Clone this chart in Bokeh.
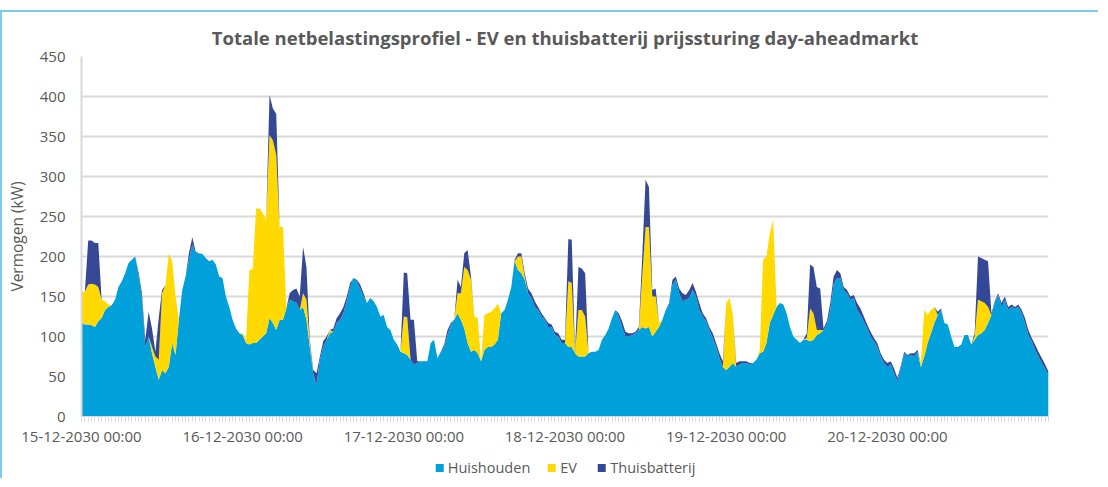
import pandas as pd
from bokeh.plotting import figure
from bokeh.layouts import column
from bokeh.models import (ColumnDataSource, FixedTicker, Range1d, Legend, LegendItem,
                          DatetimeTickFormatter)
from bokeh.embed import file_html
from bokeh.resources import INLINE

title_text = "Totale netbelastingsprofiel - EV en thuisbatterij prijssturing day-aheadmarkt"
y_label = "Vermogen (kW)"
series_names = ["Huishouden", "EV", "Thuisbatterij"]
series_colors = ["#00A0DA", "#FFD900", "#354895"]
start_time = "2030-12-15 00:00"
step = "30min"
x_tick_labels = ["15-12-2030 00:00", "16-12-2030 00:00", "17-12-2030 00:00",
                 "18-12-2030 00:00", "19-12-2030 00:00", "20-12-2030 00:00"]
y_ticks = [0, 50, 100, 150, 200, 250, 300, 350, 400, 450]

# kW, every 30 minutes
huishouden = [
    117, 115, 115, 114, 112, 119, 123, 133, 137, 139, 146, 162,
    169, 179, 192, 196, 200, 175, 148, 87, 100, 79, 62, 46,
    58, 54, 62, 92, 77, 121, 158, 175, 196, 215, 204, 204,
    203, 198, 194, 196, 190, 175, 173, 150, 137, 121, 110, 104,
    102, 92, 90, 92, 92, 96, 100, 104, 123, 117, 108, 121,
    121, 135, 146, 144, 142, 133, 137, 121, 87, 54, 40, 71,
    87, 96, 104, 106, 117, 121, 129, 144, 162, 173, 169, 160,
    150, 142, 148, 144, 137, 125, 127, 112, 108, 96, 90, 81,
    79, 77, 71, 65, 67, 69, 69, 69, 92, 96, 73, 81,
    87, 102, 115, 121, 129, 121, 110, 92, 81, 83, 79, 69,
    83, 87, 87, 90, 96, 129, 133, 146, 162, 194, 183, 179,
    171, 154, 148, 137, 133, 125, 121, 112, 112, 102, 100, 92,
    92, 87, 87, 79, 75, 75, 75, 79, 81, 81, 83, 96,
    102, 110, 123, 133, 125, 112, 100, 100, 102, 104, 108, 112,
    110, 112, 100, 106, 112, 121, 133, 140, 165, 171, 154, 144,
    146, 148, 158, 150, 133, 125, 119, 108, 98, 87, 73, 62,
    58, 62, 67, 62, 65, 67, 67, 65, 67, 71, 79, 81,
    92, 117, 127, 137, 142, 140, 129, 112, 100, 96, 92, 96,
    96, 94, 96, 102, 104, 108, 115, 133, 165, 173, 173, 158,
    154, 146, 148, 133, 127, 119, 110, 100, 94, 87, 75, 67,
    62, 65, 54, 44, 60, 79, 75, 77, 75, 81, 62, 75,
    92, 104, 117, 127, 133, 117, 115, 100, 87, 87, 90, 102,
    102, 90, 96, 102, 104, 108, 117, 127, 142, 152, 137, 146,
    133, 137, 135, 137, 129, 117, 102, 94, 83, 75, 67, 60,
    52,
]
ev = [
    39, 41, 50, 52, 53, 43, 23, 11, 3, 0, 0, 0,
    0, 0, 0, 0, 0, 0, 0, 0, 0, 8, 13, 25,
    96, 110, 142, 102, 73, 0, 0, 0, 0, 0, 0, 0,
    0, 0, 0, 0, 0, 0, 0, 0, 0, 0, 0, 0,
    2, 4, 93, 92, 168, 164, 154, 142, 229, 228, 219, 116,
    116, 0, 0, 0, 0, 0, 17, 25, 5, 0, 0, 0,
    0, 0, 4, 0, 0, 0, 0, 0, 0, 0, 0, 0,
    0, 0, 0, 0, 0, 0, 0, 0, 0, 0, 0, 0,
    46, 47, 0, 0, 0, 0, 0, 0, 0, 0, 0, 0,
    0, 0, 0, 0, 25, 33, 77, 91, 90, 42, 44, 0,
    44, 42, 44, 45, 45, 0, 0, 0, 0, 0, 17, 21,
    4, 0, 0, 0, 0, 0, 0, 0, 0, 0, 0, 0,
    0, 82, 80, 0, 58, 58, 50, 0, 0, 0, 0, 0,
    0, 0, 0, 0, 0, 0, 0, 0, 0, 0, 0, 63,
    127, 125, 50, 44, 5, 0, 0, 0, 0, 0, 0, 0,
    0, 0, 0, 0, 0, 0, 0, 0, 0, 0, 0, 0,
    84, 86, 60, 0, 0, 0, 0, 0, 0, 0, 4, 115,
    108, 112, 119, 0, 0, 0, 0, 0, 0, 0, 0, 0,
    2, 41, 33, 6, 4, 0, 0, 0, 0, 0, 0, 0,
    0, 0, 0, 0, 0, 0, 0, 0, 0, 0, 0, 0,
    0, 0, 0, 0, 0, 0, 0, 0, 0, 0, 5, 58,
    35, 29, 20, 0, 0, 0, 0, 0, 0, 0, 0, 0,
    0, 0, 4, 44, 40, 34, 20, 0, 0, 0, 0, 0,
    0, 0, 0, 0, 0, 0, 0, 0, 0, 0, 0, 0,
    0,
]
thuisbatterij = [
    0, 0, 55, 54, 52, 55, 0, 0, 0, 0, 0, 0,
    0, 0, 0, 0, 0, 5, 6, 9, 31, 23, 6, 52,
    4, 0, 0, 0, 0, 0, 0, 0, 8, 9, 2, 0,
    0, 0, 0, 0, 0, 0, 0, 0, 0, 0, 0, 0,
    0, 0, 0, 0, 0, 0, 0, 0, 50, 40, 51, 0,
    0, 0, 8, 14, 18, 17, 58, 41, 4, 4, 14, 4,
    7, 4, 0, 4, 6, 8, 8, 6, 5, 0, 2, 5,
    4, 0, 0, 0, 0, 0, 0, 0, 0, 0, 0, 0,
    55, 55, 50, 56, 2, 0, 0, 0, 0, 0, 0, 0,
    3, 6, 2, 0, 17, 8, 17, 25, 4, 0, 0, 0,
    0, 0, 0, 0, 0, 0, 0, 0, 0, 2, 4, 4,
    4, 6, 6, 7, 4, 4, 2, 5, 3, 4, 4, 4,
    4, 53, 54, 2, 54, 52, 54, 0, 0, 0, 0, 0,
    0, 0, 0, 0, 4, 7, 6, 4, 2, 2, 4, 25,
    59, 50, 8, 10, 0, 0, 0, 2, 6, 4, 6, 10,
    6, 10, 9, 6, 9, 4, 4, 4, 6, 5, 6, 7,
    0, 0, 0, 5, 4, 2, 2, 2, 0, 0, 0, 0,
    0, 0, 0, 0, 0, 0, 0, 0, 0, 0, 0, 0,
    6, 55, 58, 54, 52, 2, 4, 9, 10, 10, 6, 4,
    4, 4, 4, 9, 8, 6, 5, 6, 4, 5, 4, 4,
    5, 4, 6, 4, 3, 2, 2, 2, 4, 2, 0, 0,
    0, 0, 0, 4, 2, 0, 0, 0, 0, 0, 0, 0,
    0, 0, 4, 54, 54, 54, 57, 2, 2, 2, 5, 4,
    4, 3, 2, 3, 4, 6, 6, 4, 7, 6, 6, 5,
    4,
]

times = pd.date_range(start_time, periods=len(huishouden), freq=step)
source = ColumnDataSource(data={
    "t": times,
    series_names[0]: huishouden,
    series_names[1]: ev,
    series_names[2]: thuisbatterij,
})

TXT = "#595959"
GRID = "#D9D9D9"
FONT = "Open Sans"

p = figure(
    x_axis_type="datetime",
    frame_width=967, frame_height=360,
    min_border_left=71, min_border_right=50, min_border_top=44, min_border_bottom=40,
    x_range=Range1d(times[0], times[-1]),
    y_range=Range1d(0, 450),
    output_backend="svg", toolbar_location=None,
    title=title_text,
)

renderers = p.varea_stack(stackers=series_names, x="t", color=series_colors, source=source)

# Title
p.title.align = "center"
p.title.text_font = FONT
p.title.text_font_size = "18.5px"
p.title.text_font_style = "bold"
p.title.text_color = TXT
p.title.standoff = 13

# Axes
day_ts = pd.to_datetime(x_tick_labels, format="%d-%m-%Y %H:%M")
day_ms = [int(ts.value // 10**6) for ts in day_ts]
minor_ms = [int(ts.value // 10**6) for ts in times]
xa = p.xaxis[0]
xa.ticker = FixedTicker(ticks=day_ms, minor_ticks=minor_ms)
fmt = "%d-%m-%Y %H:%M"
xa.formatter = DatetimeTickFormatter(
    microseconds=fmt, milliseconds=fmt, seconds=fmt, minsec=fmt, minutes=fmt,
    hourmin=fmt, hours=fmt, days=fmt, months=fmt, years=fmt, strip_leading_zeros=False)
xa.major_label_overrides = {ms: lab for ms, lab in zip(day_ms, x_tick_labels)}
xa.axis_line_color = GRID
xa.axis_line_width = 1
xa.major_tick_line_color = GRID
xa.major_tick_out = 5
xa.major_tick_in = 0
xa.minor_tick_line_color = GRID
xa.minor_tick_out = 5
xa.minor_tick_in = 0
xa.major_label_text_font = FONT
xa.major_label_text_font_size = "15px"
xa.major_label_text_color = TXT
xa.major_label_standoff = 4

ya = p.yaxis[0]
ya.ticker = FixedTicker(ticks=y_ticks)
ya.axis_line_color = GRID
ya.axis_line_width = 2
ya.major_tick_line_color = None
ya.minor_tick_line_color = None
ya.major_label_text_font = FONT
ya.major_label_text_font_size = "15px"
ya.major_label_text_color = TXT
ya.major_label_standoff = 10
ya.axis_label = y_label
ya.axis_label_text_font = FONT
ya.axis_label_text_font_size = "15.5px"
ya.axis_label_text_font_style = "normal"
ya.axis_label_text_color = TXT
ya.axis_label_standoff = 9

p.xgrid.visible = False
p.ygrid.grid_line_color = GRID
p.ygrid.grid_line_width = 2
p.outline_line_color = None
p.background_fill_color = "white"
p.border_fill_color = "white"

# Legend strip below the chart (same horizontal frame as the chart).
# Its key renderers share the chart's data but lie outside this strip's ranges.
pl = figure(
    frame_width=967, frame_height=22,
    min_border_left=71, min_border_right=50, min_border_top=0, min_border_bottom=0,
    x_range=Range1d(0, 1), y_range=Range1d(0, 1),
    x_axis_location=None, y_axis_location=None,
    output_backend="svg", toolbar_location=None,
)
pl.grid.visible = False
pl.outline_line_color = None
pl.background_fill_color = "white"
pl.border_fill_color = "white"
key_renderers = pl.varea_stack(stackers=series_names, x="t", color=series_colors, source=source)

legend = Legend(
    items=[LegendItem(label=n, renderers=[r]) for n, r in zip(series_names, key_renderers)],
    orientation="horizontal", location="center",
    label_text_font=FONT, label_text_font_size="14.5px", label_text_color=TXT,
    glyph_width=10, glyph_height=10, label_standoff=4, spacing=16, label_height=14,
    padding=0, margin=0, border_line_color=None, background_fill_alpha=0,
)
pl.add_layout(legend, "center")

layout = column(p, pl, spacing=0,
                styles={"border-left": "2px solid #7DCAEC", "border-top": "2px solid #7DCAEC",
                        "margin-top": "10px"})

open("out.html", "w").write(file_html(layout, INLINE))
